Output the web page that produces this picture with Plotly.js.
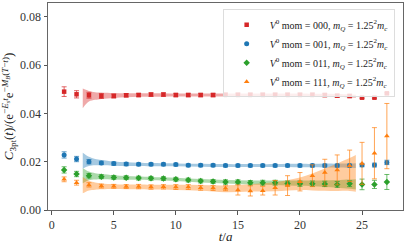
<!DOCTYPE html>
<html><head><meta charset="utf-8">
<script src="https://cdn.plot.ly/plotly-3.0.1.min.js"></script>
<style>html,body{margin:0;padding:0;background:#fff}#c{width:407px;height:244px}</style>
</head><body><div id="c"></div>
<script>
const t = [1,2,3,4,5,6,7,8,9,10,11,12,13,14,15,16,17,18,19,20,21,22,23,24,25,26,27];
const red = [0.0490,0.0479,0.0475,0.0472,0.0472,0.0475,0.0476,0.0478,0.0478,0.0476,0.0476,0.0476,0.0476,0.0477,0.0477,0.0477,0.0477,0.0477,0.0477,0.0477,0.0477,0.0476,0.0473,0.0472,0.0465,0.0465,0.0483];
const redErr = [0.0020,0.0015,0.0012,0.0010,0.0008,0.0007,0.0007,0.0007,0.0007,0.0007,0.0007,0.0007,0.0007,0.0007,0.0007,0.0007,0.0007,0.0007,0.0007,0.0007,0.0007,0.0007,0.0007,0.0007,0.0003,0.0003,0.0003];
const blue = [0.0228,0.0211,0.0200,0.0195,0.0192,0.0190,0.0189,0.0189,0.0189,0.0188,0.0185,0.0185,0.0185,0.0184,0.0184,0.0184,0.0184,0.0184,0.0184,0.0184,0.0184,0.0184,0.0184,0.0184,0.0186,0.0186,0.0197];
const blueErr = [0.0013,0.0011,0.0009,0.0007,0.0007,0.0007,0.0006,0.0006,0.0006,0.0006,0.0006,0.0006,0.0006,0.0006,0.0006,0.0006,0.0006,0.0006,0.0006,0.0006,0.0006,0.0006,0.0006,0.0006,0.0007,0.0008,0.0009];
const green = [0.0166,0.0149,0.0142,0.0138,0.0135,0.0134,0.0132,0.0131,0.0130,0.0127,0.0124,0.0120,0.0118,0.0116,0.0116,0.0113,0.0113,0.0113,0.0110,0.0109,0.0109,0.0108,0.0106,0.0109,0.0106,0.0106,0.0116];
const greenErr = [0.0013,0.0011,0.0009,0.0008,0.0008,0.0008,0.0008,0.0008,0.0008,0.0008,0.0008,0.0008,0.0008,0.0009,0.0009,0.0009,0.0010,0.0010,0.0010,0.0011,0.0011,0.0011,0.0012,0.0012,0.0022,0.0017,0.0031];
const orange = [0.0127,0.0113,0.0104,0.0099,0.0098,0.0097,0.0097,0.0095,0.0096,0.0095,0.0095,0.0092,0.0091,0.0090,0.0083,0.0079,0.0080,0.0092,0.0101,0.0117,0.0142,0.0155,0.0166,0.0183,0.0193,0.0235,0.0306];
const orangeErr = [0.0010,0.0010,0.0009,0.0008,0.0008,0.0008,0.0009,0.0009,0.0009,0.0010,0.0010,0.0010,0.0010,0.0010,0.0021,0.0021,0.0018,0.0030,0.0041,0.0038,0.0045,0.0055,0.0062,0.0065,0.0087,0.0106,0.0135];

const bandT = [2.5,2.75,3,3.5,4,5,6,7,8,10,12,14,16,18,20,21,22,23,24,24.5];
const redBand = [0.0462,0.0468,0.0471,0.0472,0.0473,0.0474,0.0475,0.0476,0.0476,0.0476,0.0476,0.0476,0.0476,0.0476,0.0476,0.0475,0.0475,0.0474,0.0472,0.0471];
const redBandHalf = [0.0041,0.0030,0.0022,0.0016,0.0013,0.0010,0.0008,0.0007,0.0007,0.0006,0.0006,0.0006,0.0006,0.0006,0.0006,0.0006,0.0006,0.0006,0.0006,0.0006];
const blueBand = [0.0204,0.0203,0.0201,0.0198,0.0196,0.0192,0.0190,0.0189,0.0188,0.0187,0.0185,0.0184,0.0184,0.0184,0.0184,0.0184,0.0184,0.0184,0.0184,0.0184];
const blueBandHalf = [0.0033,0.0025,0.0019,0.0013,0.0011,0.0009,0.0008,0.0007,0.0007,0.0006,0.0006,0.0006,0.0006,0.0006,0.0007,0.0007,0.0008,0.0008,0.0009,0.0010];
const greenBand = [0.0142,0.0142,0.0141,0.0139,0.0138,0.0135,0.0133,0.0132,0.0130,0.0127,0.0121,0.0117,0.0114,0.0113,0.0111,0.0110,0.0109,0.0108,0.0107,0.0106];
const greenBandHalf = [0.0031,0.0024,0.0018,0.0013,0.0011,0.0009,0.0008,0.0007,0.0007,0.0007,0.0007,0.0007,0.0008,0.0009,0.0011,0.0012,0.0014,0.0016,0.0019,0.0021];
const orangeBand = [0.0103,0.0102,0.0101,0.0099,0.0098,0.0097,0.0096,0.0096,0.0095,0.0094,0.0092,0.0088,0.0092,0.0097,0.0109,0.0116,0.0126,0.0136,0.0147,0.0152];
const orangeBandHalf = [0.0034,0.0026,0.0020,0.0015,0.0012,0.0010,0.0010,0.0010,0.0010,0.0011,0.0012,0.0014,0.0015,0.0019,0.0026,0.0035,0.0046,0.0057,0.0068,0.0076];

const moms = ['000','001','011','111'];
const yTicks = [0,0.02,0.04,0.06,0.08];
const yTickText = ['0.00','0.02','0.04','0.06','0.08'];
const xTicks = [0,5,10,15,20,25];

const series = [
  {y: red, e: redErr, c: redBand, h: redBandHalf, rgb: '214,39,40', sym: 'square', size: 4.5},
  {y: blue, e: blueErr, c: blueBand, h: blueBandHalf, rgb: '31,119,180', sym: 'circle', size: 5},
  {y: green, e: greenErr, c: greenBand, h: greenBandHalf, rgb: '44,160,44', sym: 'diamond', size: 5},
  {y: orange, e: orangeErr, c: orangeBand, h: orangeBandHalf, rgb: '255,127,14', sym: 'triangle-up', size: 5}
];
const serif = "'Liberation Serif', 'DejaVu Serif', serif";
const traces = [];
series.forEach((s, i) => {
  traces.push({x: bandT, y: s.c.map((v,k)=>v - s.h[k]), mode: 'lines', line: {width: 0, shape: 'spline', color: 'rgba('+s.rgb+',0)'}, showlegend: false, hoverinfo: 'skip'});
  traces.push({x: bandT, y: s.c.map((v,k)=>v + s.h[k]), mode: 'lines', fill: 'tonexty', fillcolor: 'rgba('+s.rgb+',0.4)', line: {width: 0, shape: 'spline', color: 'rgba('+s.rgb+',0)'}, showlegend: false, hoverinfo: 'skip'});
});
series.forEach((s, i) => {
  traces.push({
    x: t, y: s.y, mode: 'markers', type: 'scatter',
    name: '<i>V</i><sup>0</sup> mom = ' + moms[i] + ', <i>m<sub>Q</sub></i> = 1.25<sup>2</sup><i>m<sub>c</sub></i>',
    marker: {symbol: s.sym, size: s.size, color: 'rgb('+s.rgb+')'},
    error_y: {type: 'data', array: s.e, visible: true, color: 'rgba('+s.rgb+',0.7)', thickness: 1, width: 2.5}
  });
});
const layout = {
  width: 407, height: 244,
  margin: {l: 48, r: 4, t: 3, b: 34},
  paper_bgcolor: '#fff', plot_bgcolor: '#fff',
  font: {family: serif, size: 12, color: '#333'},
  showlegend: true,
  legend: {x: 0.492, y: 0.97, xanchor: 'left', yanchor: 'top', traceorder: 'normal', itemwidth: 36, bgcolor: 'rgba(255,255,255,0.8)', bordercolor: '#ddd', borderwidth: 1, font: {family: serif, size: 10, color: '#222'}, tracegroupgap: 0},
  xaxis: {range: [-0.3, 28.3], tickvals: xTicks, ticks: 'outside', ticklen: 3.5, tickcolor: '#555', showgrid: false, zeroline: false, showline: true, mirror: true, linecolor: '#666', linewidth: 1,
    tickfont: {family: serif, size: 12, color: '#333'},
    title: {text: '<i>t</i>/<i>a</i>', font: {family: serif, size: 13, color: '#222'}, standoff: 4}},
  yaxis: {range: [0, 0.0857], tickvals: yTicks, ticktext: yTickText, ticks: 'outside', ticklen: 3.5, tickcolor: '#555', showgrid: false, zeroline: false, showline: true, mirror: true, linecolor: '#666', linewidth: 1,
    tickfont: {family: serif, size: 12, color: '#333'},
    title: {text: '<i>C</i><sub>3pt</sub>(<i>t</i>)/(e<sup>−<i>E<sub>s</sub>t</i></sup>e<sup>−<i>M<sub>B</sub></i>(<i>T</i>−<i>t</i>)</sup>)', font: {family: serif, size: 13, color: '#222'}, standoff: 5}}
};
Plotly.newPlot('c', traces, layout, {displayModeBar: false, staticPlot: true});
</script></body></html>
